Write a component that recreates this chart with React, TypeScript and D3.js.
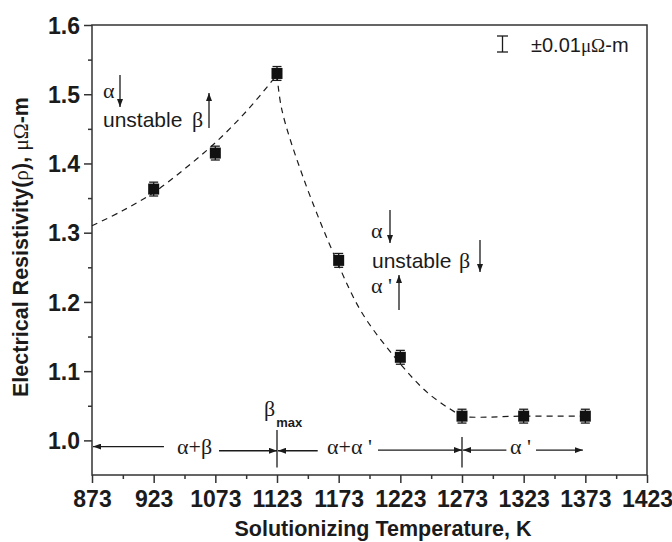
import { useEffect, useRef } from "react";
import * as d3 from "d3";

// axis tick labels (as printed on the figure)
const tickLabels = [873, 923, 1073, 1123, 1173, 1223, 1273, 1323, 1373, 1423];
const yTicks = [1.0, 1.1, 1.2, 1.3, 1.4, 1.5, 1.6];

// measured points
const temps = [923, 1073, 1123, 1173, 1223, 1273, 1323, 1373];
const resistivity = [1.363, 1.415, 1.53, 1.26, 1.12, 1.035, 1.035, 1.035];
const errorSize = 0.01;

// dashed guide curve
const riseTemps = [873, 898, 923, 998, 1073, 1098, 1123];
const riseValues = [1.31, 1.332, 1.358, 1.392, 1.43, 1.475, 1.528];
const fallTemps = [1123, 1127, 1144, 1171, 1192, 1220, 1245, 1268, 1273, 1323, 1373];
const fallValues = [1.528, 1.477, 1.381, 1.261, 1.184, 1.117, 1.069, 1.04, 1.035, 1.035, 1.035];

const SANS = "'Liberation Sans', Arial, sans-serif";
const SERIF = "'Liberation Serif', 'Times New Roman', serif";
const INK = "#1b1b1b";

function App() {
  const svgRef = useRef<SVGSVGElement>(null);

  useEffect(() => {
    document.body.style.margin = "0";
    const w = 672;
    const h = 542;
    const left = 92, right = 647, top = 25, bottom = 475;

    const svg = d3.select(svgRef.current).attr("width", w).attr("height", h);
    svg.selectAll("*").remove();

    const step = (right - left) / (tickLabels.length - 1);
    const x = d3.scaleLinear()
      .domain(tickLabels)
      .range(tickLabels.map((_, i) => left + i * step));
    const y = d3.scaleLinear().domain([0.95, 1.6]).range([bottom, top]);

    const defs = svg.append("defs");
    defs.append("marker")
      .attr("id", "ah")
      .attr("viewBox", "0 0 8 6")
      .attr("refX", 8).attr("refY", 3)
      .attr("markerWidth", 8).attr("markerHeight", 6)
      .attr("markerUnits", "userSpaceOnUse")
      .attr("orient", "auto")
      .append("path").attr("d", "M0,0 L8,3 L0,6 Z").attr("fill", INK);

    // frame
    svg.append("rect")
      .attr("x", left).attr("y", top)
      .attr("width", right - left).attr("height", bottom - top)
      .attr("fill", "none").attr("stroke", "#333").attr("stroke-width", 1.5);

    // x axis
    const xAxis = d3.axisBottom(x)
      .tickValues(tickLabels)
      .tickFormat(d => String(d))
      .tickSize(8).tickPadding(8);
    const gx = svg.append("g").attr("transform", `translate(0,${bottom})`).call(xAxis);
    const minorX = d3.pairs(tickLabels).map(([a, b]) => (a + b) / 2);
    svg.append("g").attr("transform", `translate(0,${bottom})`)
      .call(d3.axisBottom(x).tickValues(minorX).tickFormat(() => "").tickSize(4))
      .call(g => g.select(".domain").remove());

    // y axis
    const yAxis = d3.axisLeft(y)
      .tickValues(yTicks)
      .tickFormat(d3.format(".1f"))
      .tickSize(8).tickPadding(4);
    const gy = svg.append("g").attr("transform", `translate(${left},0)`).call(yAxis);
    const minorY = d3.pairs(yTicks).map(([a, b]) => (a + b) / 2);
    svg.append("g").attr("transform", `translate(${left},0)`)
      .call(d3.axisLeft(y).tickValues(minorY).tickFormat(() => "").tickSize(4))
      .call(g => g.select(".domain").remove());

    [gx, gy].forEach(g => {
      g.select(".domain").remove();
      g.selectAll("text")
        .attr("font-family", SANS).attr("font-size", 23)
        .attr("font-weight", "bold").attr("fill", INK);
    });
    gy.selectAll("text").attr("dy", "0.36em");
    svg.selectAll("g line").attr("stroke", "#333").attr("stroke-width", 1.5);

    // axis titles
    svg.append("text")
      .attr("x", 383).attr("y", 536)
      .attr("text-anchor", "middle")
      .attr("font-family", SANS).attr("font-size", 21.5).attr("font-weight", "bold")
      .attr("fill", INK)
      .text("Solutionizing Temperature, K");

    const yt = svg.append("text")
      .attr("transform", `translate(28,247) rotate(-90)`)
      .attr("text-anchor", "middle")
      .attr("font-family", SANS).attr("font-size", 21.5).attr("font-weight", "bold")
      .attr("fill", INK);
    yt.append("tspan").text("Electrical Resistivity(");
    yt.append("tspan").attr("font-family", SERIF).attr("font-weight", "normal").text("ρ");
    yt.append("tspan").text("), ");
    yt.append("tspan").attr("font-family", SERIF).attr("font-weight", "normal").text("μΩ");
    yt.append("tspan").text("-m");

    // dashed guide
    const line = d3.line<[number, number]>()
      .x(d => x(d[0])).y(d => y(d[1]))
      .curve(d3.curveCatmullRom);
    const dashed = (ts: number[], vs: number[]) =>
      svg.append("path")
        .datum(ts.map((t, i) => [t, vs[i]] as [number, number]))
        .attr("d", line)
        .attr("fill", "none").attr("stroke", INK)
        .attr("stroke-width", 1.2).attr("stroke-dasharray", "6,5");
    dashed(riseTemps, riseValues);
    dashed(fallTemps, fallValues);

    // error bars + squares
    const pts = temps.map((t, i) => ({ t, v: resistivity[i] }));
    const eb = svg.append("g").attr("stroke", INK).attr("stroke-width", 1.3);
    pts.forEach(p => {
      const cx = x(p.t);
      eb.append("line").attr("x1", cx).attr("x2", cx)
        .attr("y1", y(p.v + errorSize)).attr("y2", y(p.v - errorSize));
      [p.v + errorSize, p.v - errorSize].forEach(v =>
        eb.append("line").attr("x1", cx - 4.5).attr("x2", cx + 4.5)
          .attr("y1", y(v)).attr("y2", y(v)));
    });
    svg.append("g").selectAll("rect").data(pts).enter().append("rect")
      .attr("x", d => x(d.t) - 5.5).attr("y", d => y(d.v) - 5.5)
      .attr("width", 11).attr("height", 11).attr("fill", "#111");

    // legend
    const lg = svg.append("g").attr("stroke", INK).attr("stroke-width", 1.3);
    lg.append("line").attr("x1", 502.5).attr("x2", 502.5).attr("y1", 36).attr("y2", 52);
    lg.append("line").attr("x1", 497).attr("x2", 508).attr("y1", 36).attr("y2", 36);
    lg.append("line").attr("x1", 497).attr("x2", 508).attr("y1", 52).attr("y2", 52);
    const lt = svg.append("text").attr("x", 531).attr("y", 52)
      .attr("font-family", SANS).attr("font-size", 20).attr("fill", INK);
    lt.append("tspan").text("±0.01");
    lt.append("tspan").attr("font-family", SERIF).attr("font-size", 19).text("μΩ");
    lt.append("tspan").text("-m");

    // annotations
    const txt = (tx: number, ty: number, s: string, serif = false) =>
      svg.append("text").attr("x", tx).attr("y", ty)
        .attr("font-family", serif ? SERIF : SANS).attr("font-size", serif ? 22 : 21)
        .attr("fill", INK).text(s);
    const arrow = (x1: number, y1: number, x2: number, y2: number) =>
      svg.append("line")
        .attr("x1", x1).attr("y1", y1).attr("x2", x2).attr("y2", y2)
        .attr("stroke", INK).attr("stroke-width", 1.3)
        .attr("marker-end", "url(#ah)");

    txt(103, 98, "α", true);
    arrow(120, 75, 120, 107);
    txt(103, 127, "unstable");
    txt(192, 127, "β", true);
    arrow(209, 128, 209, 93);

    txt(371, 238, "α", true);
    arrow(390, 210, 390, 243);
    txt(372, 268, "unstable");
    txt(459, 268, "β", true);
    arrow(480, 240, 480, 272);
    txt(371, 293, "α '", true);
    arrow(399, 310, 399, 275);

    // phase regions along the bottom
    const phaseY = 0.986;
    arrow(x(948), y(0.991), x(873) + 1, y(0.991));
    txt(177, y(0.981), "α+β", true);
    arrow(x(1076), y(0.985), x(1123), y(0.985));
    arrow(x(1156), y(0.985), x(1123) + 1, y(0.985));
    txt(327, y(0.981), "α+α '", true);
    arrow(378, y(phaseY), x(1273), y(phaseY));
    arrow(x(1309), y(phaseY), x(1273) + 1, y(phaseY));
    txt(510, y(0.981), "α '", true);
    arrow(536, y(phaseY), x(1371), y(phaseY));

    svg.append("line").attr("x1", x(1123)).attr("x2", x(1123))
      .attr("y1", y(1.015)).attr("y2", y(0.961))
      .attr("stroke", INK).attr("stroke-width", 1.3);
    svg.append("line").attr("x1", x(1273)).attr("x2", x(1273))
      .attr("y1", y(1.005)).attr("y2", y(0.961))
      .attr("stroke", INK).attr("stroke-width", 1.3);

    const bm = svg.append("text").attr("x", 264).attr("y", 416)
      .attr("font-family", SERIF).attr("font-size", 22).attr("fill", INK);
    bm.append("tspan").text("β");
    bm.append("tspan").attr("dy", 11).attr("dx", 1).attr("font-family", SANS)
      .attr("font-weight", "bold").attr("font-size", 13).text("max");
  }, []);

  return (
    <div>
      <svg ref={svgRef} />
    </div>
  );
}

export default App;
